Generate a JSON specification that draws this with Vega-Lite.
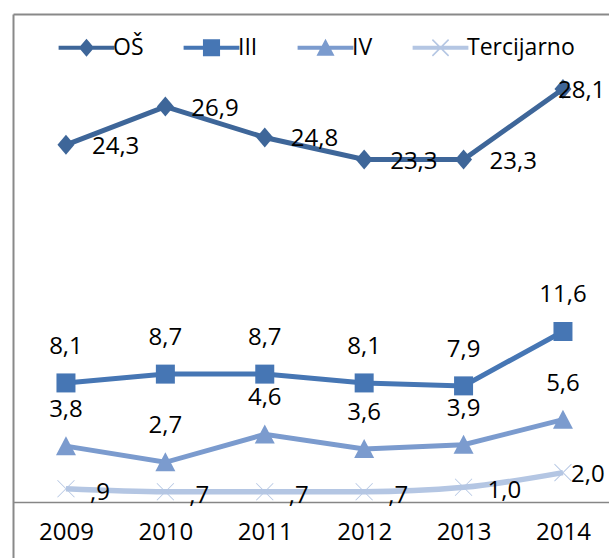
{
  "$schema": "https://vega.github.io/schema/vega-lite/v6.json",
  "width": 596,
  "height": 544,
  "autosize": {"type": "none"},
  "padding": {"left": 13, "top": 14, "right": 0, "bottom": 0},
  "background": "white",
  "config": {
    "view": {"stroke": null},
    "font": "Open Sans",
    "legend": {
      "orient": "none",
      "legendX": 62,
      "legendY": 22,
      "direction": "horizontal",
      "title": null,
      "labelFont": "Open Sans",
      "labelFontSize": 23,
      "labelColor": "black",
      "symbolSize": 324,
      "symbolStrokeWidth": 0,
      "symbolOpacity": 1,
      "columnPadding": 39,
      "labelOffset": 15,
      "padding": 0
    }
  },
  "data": {
    "values": [
      {"year": "2009", "series": "OŠ", "value": 24.3, "label": "24,3"},
      {"year": "2010", "series": "OŠ", "value": 26.9, "label": "26,9"},
      {"year": "2011", "series": "OŠ", "value": 24.8, "label": "24,8"},
      {"year": "2012", "series": "OŠ", "value": 23.3, "label": "23,3"},
      {"year": "2013", "series": "OŠ", "value": 23.3, "label": "23,3"},
      {"year": "2014", "series": "OŠ", "value": 28.1, "label": "28,1"},
      {"year": "2009", "series": "III", "value": 8.1, "label": "8,1"},
      {"year": "2010", "series": "III", "value": 8.7, "label": "8,7"},
      {"year": "2011", "series": "III", "value": 8.7, "label": "8,7"},
      {"year": "2012", "series": "III", "value": 8.1, "label": "8,1"},
      {"year": "2013", "series": "III", "value": 7.9, "label": "7,9"},
      {"year": "2014", "series": "III", "value": 11.6, "label": "11,6"},
      {"year": "2009", "series": "IV", "value": 3.8, "label": "3,8"},
      {"year": "2010", "series": "IV", "value": 2.7, "label": "2,7"},
      {"year": "2011", "series": "IV", "value": 4.6, "label": "4,6"},
      {"year": "2012", "series": "IV", "value": 3.6, "label": "3,6"},
      {"year": "2013", "series": "IV", "value": 3.9, "label": "3,9"},
      {"year": "2014", "series": "IV", "value": 5.6, "label": "5,6"},
      {"year": "2009", "series": "Tercijarno", "value": 0.9, "label": ",9"},
      {"year": "2010", "series": "Tercijarno", "value": 0.7, "label": ",7"},
      {"year": "2011", "series": "Tercijarno", "value": 0.7, "label": ",7"},
      {"year": "2012", "series": "Tercijarno", "value": 0.7, "label": ",7"},
      {"year": "2013", "series": "Tercijarno", "value": 1.0, "label": "1,0"},
      {"year": "2014", "series": "Tercijarno", "value": 2.0, "label": "2,0"}
    ]
  },
  "resolve": {"axis": {"x": "independent"}, "scale": {"color": "independent", "shape": "independent"}},
  "layer": [
    {
      "transform": [{"filter": "datum.series !== 'Tercijarno'"}],
      "mark": {"type": "line", "strokeWidth": 5},
      "encoding": {
        "x": {
          "field": "year", "type": "ordinal",
          "scale": {"type": "point", "domain": ["2009", "2010", "2011", "2012", "2013", "2014"], "padding": 0.498, "align": 0.535},
          "axis": {"orient": "bottom", "offset": -56, "domainColor": "#868686", "domainWidth": 1.5, "ticks": false, "labelFont": "Open Sans", "labelFontSize": 24, "labelColor": "black", "labelPadding": 18, "labelAngle": 0, "title": null}
        },
        "y": {
          "field": "value", "type": "quantitative",
          "scale": {"domain": [-3.81, 33.2], "nice": false, "zero": false},
          "axis": {"domain": true, "domainColor": "#898989", "domainWidth": 2, "labels": false, "ticks": false, "grid": false, "title": null}
        },
        "color": {"field": "series", "type": "nominal", "scale": {"domain": ["OŠ", "III", "IV", "Tercijarno"], "range": ["#3E6699", "#4676B4", "#7B9BCE", "#B4C6E3"]}, "legend": null}
      }
    },
    {
      "transform": [{"filter": "datum.series === 'Tercijarno'"}],
      "mark": {"type": "line", "strokeWidth": 5.5, "interpolate": "monotone", "color": "#B4C6E3"},
      "encoding": {
        "x": {"field": "year", "type": "ordinal", "axis": {"orient": "top", "labels": false, "ticks": false, "domainColor": "#898989", "domainWidth": 2, "title": null}},
        "y": {"field": "value", "type": "quantitative"}
      }
    },
    {
      "mark": {"type": "point", "filled": true, "size": 400, "opacity": 1},
      "encoding": {
        "x": {"field": "year", "type": "ordinal", "axis": null},
        "y": {"field": "value", "type": "quantitative"},
        "color": {"field": "series", "type": "nominal", "scale": {"domain": ["OŠ", "III", "IV", "Tercijarno"], "range": ["#3E6699", "#4676B4", "#7B9BCE", "#B4C6E3"]}, "legend": null},
        "shape": {
          "field": "series", "type": "nominal",
          "scale": {"domain": ["OŠ", "III", "IV", "Tercijarno"], "range": ["M0,-1L0.85,0L0,1L-0.85,0Z", "M-0.95,-0.95L0.95,-0.95L0.95,0.95L-0.95,0.95Z", "M0,-1L1,0.9L-1,0.9Z", "M-0.82,-0.88L0.88,0.82L0.82,0.88L-0.88,-0.82Z M0.82,-0.88L0.88,-0.82L-0.82,0.88L-0.88,0.82Z"]},
          "legend": null
        }
      }
    },
    {
      "transform": [{"filter": "datum.series === 'legend-only'"}],
      "mark": {"type": "point", "filled": true, "size": 324, "opacity": 1},
      "encoding": {
        "x": {"field": "year", "type": "ordinal", "axis": null},
        "y": {"field": "value", "type": "quantitative"},
        "color": {"field": "series", "type": "nominal", "scale": {"domain": ["OŠ", "III", "IV", "Tercijarno"], "range": ["#3E6699", "#4676B4", "#7B9BCE", "#B4C6E3"]}},
        "shape": {
          "field": "series", "type": "nominal",
          "scale": {"domain": ["OŠ", "III", "IV", "Tercijarno"], "range": [
            "M-3.1,-0.22L3.1,-0.22L3.1,0.22L-3.1,0.22Z M0,-1L0.85,0L0,1L-0.85,0Z",
            "M-3.1,-0.22L3.1,-0.22L3.1,0.22L-3.1,0.22Z M-0.95,-0.95L0.95,-0.95L0.95,0.95L-0.95,0.95Z",
            "M-3.1,-0.22L3.1,-0.22L3.1,0.22L-3.1,0.22Z M0,-1L1,0.9L-1,0.9Z",
            "M-3.1,-0.22L3.1,-0.22L3.1,0.22L-3.1,0.22Z M-0.84,-0.96L0.96,0.84L0.84,0.96L-0.96,-0.84Z M0.84,-0.96L0.96,-0.84L-0.84,0.96L-0.96,0.84Z"
          ]}
        }
      }
    },
    {
      "transform": [{"filter": "datum.series === 'OŠ' && datum.year !== '2014'"}],
      "mark": {"type": "text", "align": "left", "baseline": "middle", "dx": 26, "dy": 2, "font": "Open Sans", "fontSize": 24, "color": "black"},
      "encoding": {
        "x": {"field": "year", "type": "ordinal", "axis": null},
        "y": {"field": "value", "type": "quantitative"},
        "text": {"field": "label"}
      }
    },
    {
      "transform": [{"filter": "datum.series === 'OŠ' && datum.year === '2014'"}],
      "mark": {"type": "text", "align": "left", "baseline": "middle", "dx": -5, "dy": 2, "font": "Open Sans", "fontSize": 24, "color": "black"},
      "encoding": {
        "x": {"field": "year", "type": "ordinal", "axis": null},
        "y": {"field": "value", "type": "quantitative"},
        "text": {"field": "label"}
      }
    },
    {
      "transform": [{"filter": "datum.series === 'Tercijarno' && datum.year === '2014'"}],
      "mark": {"type": "text", "align": "left", "baseline": "middle", "dx": 8, "dy": 2, "font": "Open Sans", "fontSize": 24, "color": "black"},
      "encoding": {
        "x": {"field": "year", "type": "ordinal", "axis": null},
        "y": {"field": "value", "type": "quantitative"},
        "text": {"field": "label"}
      }
    },
    {
      "transform": [{"filter": "datum.series === 'III' || datum.series === 'IV'"}],
      "mark": {"type": "text", "align": "center", "baseline": "middle", "dy": -36, "font": "Open Sans", "fontSize": 24, "color": "black"},
      "encoding": {
        "x": {"field": "year", "type": "ordinal", "axis": null},
        "y": {"field": "value", "type": "quantitative"},
        "text": {"field": "label"}
      }
    },
    {
      "transform": [{"filter": "datum.series === 'Tercijarno' && datum.year !== '2014'"}],
      "mark": {"type": "text", "align": "left", "baseline": "middle", "dx": 24, "dy": 4, "font": "Open Sans", "fontSize": 24, "color": "black"},
      "encoding": {
        "x": {"field": "year", "type": "ordinal", "axis": null},
        "y": {"field": "value", "type": "quantitative"},
        "text": {"field": "label"}
      }
    }
  ]
}
